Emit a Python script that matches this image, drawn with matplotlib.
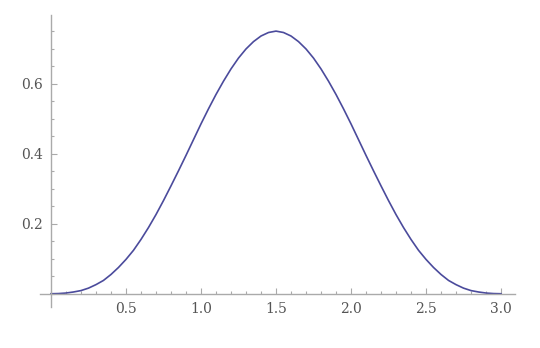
from matplotlib import pyplot as plt
from matplotlib.ticker import MultipleLocator, FixedLocator

# values
x_values = [
    0.00, 0.05, 0.10, 0.15, 0.20, 0.25, 0.30, 0.35, 0.40, 0.45,
    0.50, 0.55, 0.60, 0.65, 0.70, 0.75, 0.80, 0.85, 0.90, 0.95,
    1.00, 1.05, 1.10, 1.15, 1.20, 1.25, 1.30, 1.35, 1.40, 1.45,
    1.50, 1.55, 1.60, 1.65, 1.70, 1.75, 1.80, 1.85, 1.90, 1.95,
    2.00, 2.05, 2.10, 2.15, 2.20, 2.25, 2.30, 2.35, 2.40, 2.45,
    2.50, 2.55, 2.60, 2.65, 2.70, 2.75, 2.80, 2.85, 2.90, 2.95,
    3.00,
]
y_values = [
    0.000, 0.0005, 0.002, 0.005, 0.009, 0.016, 0.026, 0.038, 0.055, 0.075,
    0.098, 0.124, 0.155, 0.189, 0.226, 0.266, 0.308, 0.351, 0.395, 0.440,
    0.485, 0.528, 0.569, 0.607, 0.642, 0.673, 0.699, 0.720, 0.736, 0.746,
    0.750, 0.746, 0.736, 0.720, 0.699, 0.673, 0.642, 0.607, 0.569, 0.528,
    0.485, 0.440, 0.395, 0.351, 0.308, 0.266, 0.226, 0.189, 0.155, 0.124,
    0.098, 0.075, 0.055, 0.038, 0.026, 0.016, 0.009, 0.005, 0.002, 0.0005,
    0.000,
]
x_ticks = [0.5, 1.0, 1.5, 2.0, 2.5, 3.0]
y_ticks = [0.2, 0.4, 0.6]

fig = plt.figure(figsize=(5.4, 3.48), dpi=100)
ax = fig.add_axes([40 / 540, 41.3 / 348, 475 / 540, 291.7 / 348])

ax.plot(x_values, y_values, color='#4b4b9c', linewidth=1.2,
        solid_joinstyle='round')

ax.set_xlim(-0.073, 3.093)
ax.set_ylim(-0.037, 0.796)

# Mathematica-style axes crossing at the origin
for side in ['top', 'right']:
    ax.spines[side].set_visible(False)
ax.spines['left'].set_position(('data', 0))
ax.spines['bottom'].set_position(('data', 0))
for side in ['left', 'bottom']:
    ax.spines[side].set_color('#aaaaaa')
    ax.spines[side].set_linewidth(1.0)

ax.xaxis.set_major_locator(FixedLocator(x_ticks))
ax.yaxis.set_major_locator(FixedLocator(y_ticks))
ax.xaxis.set_minor_locator(MultipleLocator(0.1))
ax.yaxis.set_minor_locator(MultipleLocator(0.05))
ax.set_xticklabels([f'{t:.1f}' for t in x_ticks])
ax.set_yticklabels([f'{t:.1f}' for t in y_ticks])

ax.tick_params(which='both', direction='in', color='#aaaaaa', width=0.8,
               labelcolor='#555555', labelsize=10)
ax.tick_params(which='major', length=4, pad=6)
ax.tick_params(which='minor', length=2.5)
for lbl in ax.get_xticklabels() + ax.get_yticklabels():
    lbl.set_family('DejaVu Serif')

plt.savefig('out.png', dpi=100)
